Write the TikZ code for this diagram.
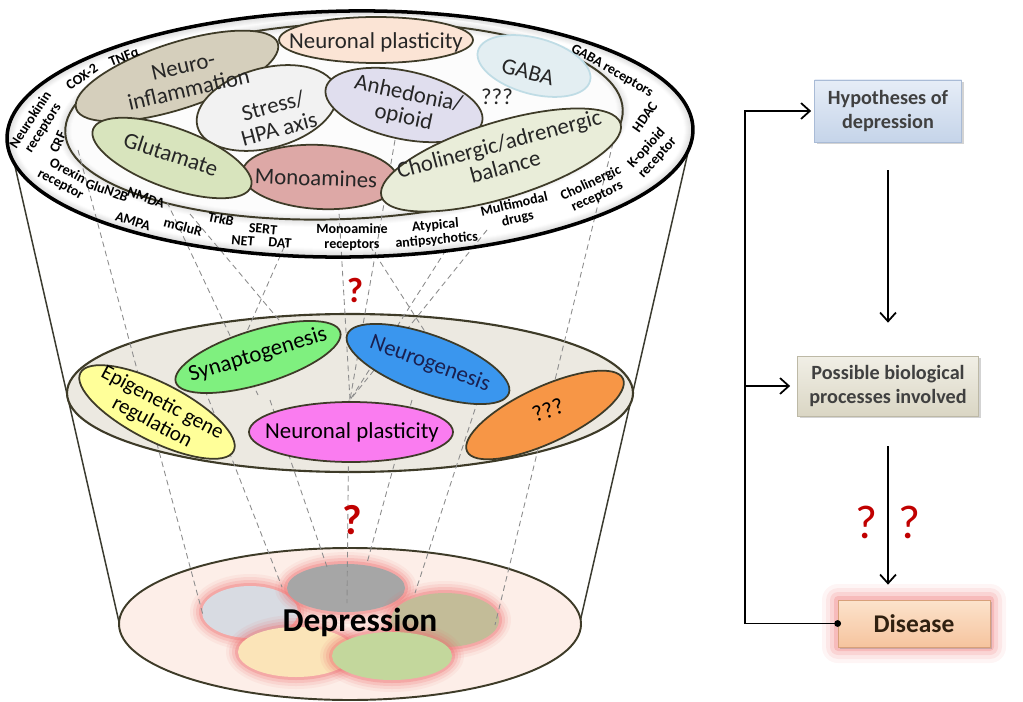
\documentclass[tikz,border=0pt]{standalone}
\usepackage{fontspec}
\setmainfont{Carlito}
\usetikzlibrary{shapes.geometric,arrows.meta,shadows,calc}
\newlength\pxl
\setlength\pxl{0.02cm}
\definecolor{olv}{HTML}{3E3B28}
\definecolor{txt}{HTML}{262626}
\definecolor{dashgray}{HTML}{8C8C8C}
\definecolor{cNeuroinf}{HTML}{D5CFBC}
\definecolor{cNPtop}{HTML}{FBE4D5}
\definecolor{cGABA}{HTML}{E3EEF2}
\definecolor{cGABAb}{HTML}{BFDCE5}
\definecolor{cStress}{HTML}{F2F2F2}
\definecolor{cAnh}{HTML}{E0DEEE}
\definecolor{cMono}{HTML}{DDA8A6}
\definecolor{cGlu}{HTML}{D8E4BD}
\definecolor{cChol}{HTML}{E9EDD9}
\definecolor{cMid}{HTML}{ECE9E1}
\definecolor{cEpi}{HTML}{FFFF99}
\definecolor{cSyn}{HTML}{7FF07F}
\definecolor{cNeu}{HTML}{3A96EE}
\definecolor{cNPm}{HTML}{FA7CF0}
\definecolor{cQ}{HTML}{F79646}
\definecolor{cBot}{HTML}{FDEEE8}
\definecolor{cBa}{HTML}{D8DBE2}
\definecolor{cBb}{HTML}{A6A6A6}
\definecolor{cBc}{HTML}{C3BC98}
\definecolor{cBd}{HTML}{FBE4B8}
\definecolor{cBe}{HTML}{C3D79C}
\definecolor{glowred}{HTML}{EE6F6F}
\definecolor{qred}{HTML}{C00000}
\definecolor{hypT}{HTML}{E6EDF7}
\definecolor{hypB}{HTML}{C5D4E9}
\definecolor{hypb}{HTML}{A9BBD6}
\definecolor{posT}{HTML}{F1EFE6}
\definecolor{posB}{HTML}{DAD6C4}
\definecolor{posb}{HTML}{BDB9A6}
\definecolor{disT}{HTML}{FCE3CC}
\definecolor{disB}{HTML}{F6C49E}
\definecolor{disb}{HTML}{D8A07A}
\definecolor{boxtxt}{HTML}{404040}
\definecolor{funnel}{HTML}{3B3B30}
\definecolor{navy}{HTML}{1A2050}
\begin{document}
\begin{tikzpicture}[x=0.02cm,y=-0.02cm,
  el/.style={ellipse, draw=olv, line width=1pt, inner sep=0pt},
  es/.style 2 args={minimum width=#1\pxl, minimum height=#2\pxl},
  lab/.style={font=\fontsize{13}{13.5}\selectfont, align=center, inner sep=0pt, text=txt},
  ring/.style={font=\bfseries\fontsize{8}{8.4}\selectfont, align=center, inner sep=0pt},
  dl/.style={draw=dashgray, dash pattern=on 3.2pt off 2.2pt, line width=0.5pt},
  fcbox/.style={rectangle, draw=#1, line width=0.4pt, inner sep=0pt, align=center, text=boxtxt, drop shadow={opacity=0.35, shadow xshift=1.2pt, shadow yshift=-1.2pt}},
  arr/.style={line width=1pt, -{Straight Barb[length=5pt,width=9pt,line width=1pt]}},
  qm/.style={text=qred, inner sep=0pt}
]
\useasboundingbox (0,0) rectangle (1023,702);

% ---------- funnel ----------
\coordinate (fl1) at (9,140);
\coordinate (fl2) at (119,622);
\coordinate (fr1) at (692,135);
\coordinate (fr2) at (580,622);
\draw[funnel, line width=0.85pt] (fl1) -- (fl2);
\draw[funnel, line width=0.85pt] (fr1) -- (fr2);

% bottom disc
\draw[olv, line width=1.1pt, fill=cBot] (350,624) ellipse [x radius=231, y radius=76];
% middle disc
\draw[olv, line width=1.2pt, fill=cMid] (350,393) ellipse [x radius=283, y radius=79];

% top ring shading
\begin{scope}[rotate around={0.8:(350,134)}]
\foreach \i in {0,...,9}{
  \pgfmathsetmacro\g{max(0,30-3.6*\i)}
  \fill[gray!\g] (350,134) ellipse [x radius={343-\i}, y radius={123-\i}];
}
\end{scope}
\begin{scope}[rotate around={2.4:(344,121)}]
\foreach \i in {7,6,5,4,3,2,1}{
  \pgfmathsetmacro\g{3.2*(8-\i)}
  \fill[gray!\g] (344,121) ellipse [x radius={279+\i}, y radius={98+\i}];
}
\foreach \i in {0,...,7}{
  \pgfmathsetmacro\g{max(2,20-3*\i)}
  \fill[gray!\g] (344,121) ellipse [x radius={279-\i}, y radius={98-\i}];
}
\draw[olv, line width=1.1pt] (344,121) ellipse [x radius=279, y radius=98];
\end{scope}

% ---------- bottom blobs ----------
\foreach \cx/\cy/\rx/\ry/\c/\n in {250/612/48/26/cBa/ba, 346/588/59/24/cBb/bb, 445/620/54/27/cBc/bc, 296/652/58/25/cBd/bd, 392/656/60/24/cBe/be}{
  \foreach \k/\o in {12/0.08, 9/0.12, 6/0.18, 3/0.3}{
    \fill[glowred, opacity=\o] (\cx,\cy) ellipse [x radius={\rx+\k}, y radius={\ry+\k}];
  }
  \node[ellipse, fill=\c, inner sep=0pt, minimum width={2*\rx*\pxl}, minimum height={2*\ry*\pxl}] (\n) at (\cx,\cy) {};
}

% ---------- dashed connectors ----------
\foreach \n/\sx/\sy/\ex/\ey in {
  a1/78/150/203/615, a2/167/202/258/395, a3/190/214/300/345, a4/288/238/245/336,
  a5/338/195/350/400, a6/395/140/350/400, a7/370/246/440/355, a8/446/250/350/400,
  a9/487/230/350/400, a10/613/143/495/625,
  b1/205/390/282/587, b2/270/400/327/567, b3/349/400/347/603, b4/412/400/367/563,
  b5/478/400/415/593}{
  \coordinate (\n s) at (\sx,\sy);
  \coordinate (\n e) at (\ex,\ey);
  \draw[dl] (\n s) -- (\n e);
}

% ---------- top ellipses ----------
\node[el, fill=cNeuroinf, rotate=18, es={212}{66}] (einf) at (177,76) {};
\node[el, fill=cNPtop, es={194}{46}] (enpt) at (376,40) {};
\node[el, draw=cGABAb, fill=cGABA, rotate=-15, es={116}{56}] (egaba) at (534,66) {};
\node[el, fill=cStress, rotate=15, es={144}{80}] (estr) at (267,108) {};
\node[el, fill=cAnh, rotate=-12, es={160}{68}] (eanh) at (404,105) {};
\node[el, fill=cMono, rotate=-3, es={156}{64}] (emono) at (320,177) {};
\node[el, fill=cGlu, rotate=-20, es={168}{60}] (eglu) at (172,158) {};
\node[el, fill=cChol, rotate=17, es={250}{76}] (echol) at (501,160) {};

\draw[black, line width=2pt, rotate around={0.8:(350,134)}] (350,134) ellipse [x radius=343, y radius=123];

\node[lab, rotate=13] (tinf) at (186,78) {Neuro-\\inflammation};
\node[lab] (tnpt) at (376,42) {Neuronal plasticity};
\node[lab, rotate=-15] (tgaba) at (528,72) {GABA};
\node[lab, rotate=15] (tstr) at (276,117) {Stress/\\HPA axis};
\node[lab, rotate=-12] (tanh) at (406,106) {Anhedonia/\\opioid};
\node[lab] (tqq) at (497,97) {???};
\node[lab, rotate=-2] (tmono) at (316,178) {Monoamines};
\node[lab, rotate=-18] (tglu) at (171,154) {Glutamate};
\node[lab, rotate=15] (tchol) at (502,155) {Cholinergic/adrenergic\\balance};

% ring labels
\node[ring, rotate=57] (r1) at (37,124) {Neurokinin\\receptors};
\node[ring, rotate=66] (r2) at (58,142) {CRF};
\node[ring, rotate=35] (r3) at (82,77) {COX-2};
\node[ring, rotate=22] (r4) at (124,57) {TNFα};
\node[ring, rotate=-28] (r5) at (64,178) {Orexin\\receptor};
\node[ring, rotate=-20] (r6) at (107,190) {GluN2B};
\node[ring, rotate=-20] (r7) at (146,198) {NMDA};
\node[ring, rotate=-17] (r8) at (133,221) {AMPA};
\node[ring, rotate=-15] (r9) at (183,227) {mGluR};
\node[ring, rotate=-12] (r10) at (221,219) {TrkB};
\node[ring, rotate=-5] (r11) at (263,229) {SERT};
\node[ring, rotate=-5] (r12) at (243,241) {NET};
\node[ring, rotate=-5] (r13) at (280,243) {DAT};
\node[ring] (r14) at (352,237) {Monoamine\\receptors};
\node[ring, rotate=5] (r15) at (436,233) {Atypical\\antipsychotics};
\node[ring, rotate=13] (r16) at (516,212) {Multimodal\\drugs};
\node[ring, rotate=25] (r17) at (594,190) {Cholinergic\\receptors};
\node[ring, rotate=48] (r18) at (652,153) {K-opioid\\receptor};
\node[ring, rotate=55] (r19) at (645,117) {HDAC};
\node[ring, rotate=-30] (r20) at (612,71) {GABA receptors};

% ---------- middle ellipses ----------
\node[el, fill=cEpi, rotate=-27, es={172}{58}] (eepi) at (157,412) {};
\node[el, fill=cSyn, rotate=17, es={172}{54}] (esyn) at (258,357) {};
\node[el, fill=cNeu, rotate=-20, es={172}{58}] (eneu) at (428,364) {};
\node[el, fill=cNPm, es={204}{60}] (enpm) at (351,432) {};
\node[el, fill=cQ, rotate=25, es={172}{56}] (eq) at (545,415) {};

\node[lab, text=black, rotate=-28, font=\fontsize{12}{12.5}\selectfont] (tepi) at (157,413) {Epigenetic gene\\regulation};
\node[lab, text=black, rotate=17] (tsyn) at (258,355) {Synaptogenesis};
\node[lab, text=navy, rotate=-20] (tneu) at (430,364) {Neurogenesis};
\node[lab, text=black] (tnpm) at (352,432) {Neuronal plasticity};
\node[lab, text=black, rotate=20] (tq) at (548,410) {???};

\node[font=\bfseries\fontsize{19}{20}\selectfont, inner sep=0pt] (dep) at (360,622) {Depression};

\node[qm, font=\bfseries\fontsize{20}{20}\selectfont] (q1) at (355,290) {?};
\node[qm, font=\bfseries\fontsize{24}{24}\selectfont] (q2) at (352,520) {?};

% ---------- flowchart ----------
\node[fcbox=hypb, top color=hypT, bottom color=hypB, minimum width=147\pxl, minimum height=62\pxl,
      font=\bfseries\fontsize{11.5}{13.6}\selectfont] (hyp) at (888,111) {Hypotheses of\\depression};
\node[fcbox=posb, top color=posT, bottom color=posB, minimum width=181\pxl, minimum height=60\pxl,
      font=\bfseries\fontsize{11.5}{13.6}\selectfont] (pos) at (888,386) {Possible biological\\processes involved};
\foreach \k/\o in {16/0.07, 12/0.1, 8/0.16, 4/0.25}{
  \fill[glowred, opacity=\o, rounded corners=\k\pxl] (838-\k,600-\k) rectangle (990+\k,647+\k);
}
\node[fcbox=disb, top color=disT, bottom color=disB, minimum width=152\pxl, minimum height=47\pxl,
      font=\bfseries\fontsize{14.5}{16}\selectfont, text=black!75!brown] (dis) at (914,623.5) {Disease};

\draw[arr] ([yshift=-28\pxl]hyp.south) -- ([yshift=33\pxl]pos.north);
\draw[arr] ([yshift=-30\pxl]pos.south) -- ([yshift=15\pxl]dis.north -| pos.south);
\coordinate (loopc) at (745,623.5);
\draw[arr, shorten >=3\pxl] (dis.west) -- (loopc) |- (hyp.west);
\draw[arr] (loopc |- pos.west) -- ([xshift=-7\pxl]pos.west);
\fill (dis.west) circle [radius=3.4\pxl];

\node[qm, font=\fontsize{27}{27}\selectfont] (q3) at (866,522) {?};
\node[qm, font=\fontsize{27}{27}\selectfont] (q4) at (909,522) {?};
\end{tikzpicture}
\end{document}
